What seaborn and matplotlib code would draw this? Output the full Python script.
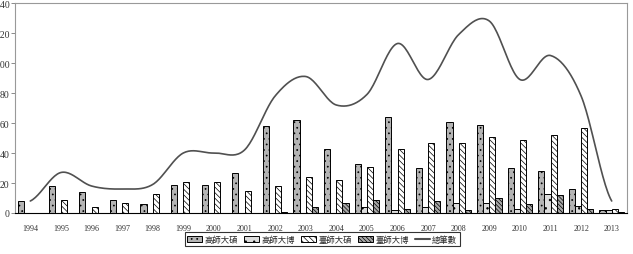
import numpy as np
import pandas as pd
import matplotlib
matplotlib.use("Agg")
import matplotlib.pyplot as plt
import seaborn as sns
from matplotlib.patches import Patch
from matplotlib.lines import Line2D

# data
years = [str(y) for y in range(1994, 2014)]
ksu_master = [8, 18, 14, 9, 6, 19, 19, 27, 58, 62, 43, 33, 64, 30, 61, 59, 30, 28, 16, 2]
ksu_phd = [0, 0, 0, 0, 0, 0, 0, 0, 0, 0, 0, 4, 2, 4, 7, 7, 3, 13, 5, 2]
ntnu_master = [0, 9, 4, 7, 13, 21, 21, 15, 18, 24, 22, 31, 43, 47, 47, 51, 49, 52, 57, 3]
ntnu_phd = [0, 0, 0, 0, 0, 0, 0, 0, 1, 4, 7, 9, 3, 8, 2, 10, 6, 12, 3, 1]
total = [8, 27, 18, 16, 19, 40, 40, 42, 78, 91, 72, 79, 113, 89, 119, 128, 89, 105, 78, 8]

series_names = ['高師大碩', '高師大博', '臺師大碩', '臺師大博']
total_name = '總筆數'

face_colors = ['#b4b4b4', '#dcdcdc', '#ffffff', '#a8a8a8']
hatches = ['...', '..', '\\' * 6, '\\' * 8]

df = pd.DataFrame({'年': years,
                   series_names[0]: ksu_master,
                   series_names[1]: ksu_phd,
                   series_names[2]: ntnu_master,
                   series_names[3]: ntnu_phd})
df = df.melt(id_vars='年', var_name='類別', value_name='篇數')

sns.set_theme(style='white')
plt.rcParams['font.family'] = ['Liberation Serif', 'Noto Sans CJK TC']
plt.rcParams['hatch.linewidth'] = 0.5

fig = plt.figure(figsize=(6.33, 2.55), dpi=100)
ax = fig.add_axes([15 / 633, 1 - 214 / 255, 612 / 633, 210 / 255])

sns.barplot(data=df, x='年', y='篇數', hue='類別', hue_order=series_names,
            palette=face_colors, saturation=1, width=0.8, errorbar=None,
            edgecolor='black', linewidth=0.7, legend=False, ax=ax)

for container, hatch in zip(ax.containers, hatches):
    for bar in container:
        bar.set_hatch(hatch)


# smoothed total line (Catmull-Rom like the spreadsheet "smooth line")
def smooth_curve(vals, n=24):
    p = np.asarray(vals, dtype=float)
    pad = np.concatenate([[p[0]], p, [p[-1]]])
    t = np.linspace(0, 1, n, endpoint=False)
    h00 = 2 * t**3 - 3 * t**2 + 1
    h10 = t**3 - 2 * t**2 + t
    h01 = -2 * t**3 + 3 * t**2
    h11 = t**3 - t**2
    xs, ys = [], []
    for i in range(len(p) - 1):
        m1 = (pad[i + 2] - pad[i]) / 2
        m2 = (pad[i + 3] - pad[i + 1]) / 2
        xs.append(i + t)
        ys.append(h00 * p[i] + h10 * m1 + h01 * p[i + 1] + h11 * m2)
    xs.append([len(p) - 1])
    ys.append([p[-1]])
    return np.concatenate(xs), np.concatenate(ys)


sx, sy = smooth_curve(total)
ax.plot(sx, sy, color='#505050', linewidth=1.2, zorder=5)

ax.set_xlim(-0.5, len(years) - 0.5)
ax.set_ylim(0, 140)
ax.set_yticks(range(0, 141, 20))
ax.set_xlabel('')
ax.set_ylabel('')
ax.set_xticks(np.arange(len(years)) + 0.5, minor=True)
ax.tick_params(axis='x', which='major', length=0, pad=8, labelsize=5.8, labelcolor='#333333')
ax.tick_params(axis='x', which='minor', length=2, direction='in', width=0.6, color='#555555')
ax.tick_params(axis='y', length=3, width=0.6, pad=1, labelsize=7, labelcolor='#333333', color='#777777', left=True)

for side in ['top', 'left', 'right']:
    ax.spines[side].set_color('#999999')
    ax.spines[side].set_linewidth(0.8)
ax.spines['bottom'].set_color('black')
ax.spines['bottom'].set_linewidth(0.8)

handles = [Patch(facecolor=c, edgecolor='black', hatch=h, linewidth=0.7)
           for c, h in zip(face_colors, hatches)]
handles.append(Line2D([0], [0], color='#505050', linewidth=1.5))
leg = fig.legend(handles, series_names + [total_name], loc='center',
                 bbox_to_anchor=(0.509, 0.057), ncol=5,
                 frameon=True, fancybox=False, edgecolor='black',
                 handlelength=1.8, handleheight=0.7, columnspacing=0.7,
                 handletextpad=0.3, borderpad=0.3,
                 prop={'family': ['Noto Sans CJK TC'], 'size': 6})
leg.get_frame().set_linewidth(0.8)

fig.savefig('out.png', dpi=100)
